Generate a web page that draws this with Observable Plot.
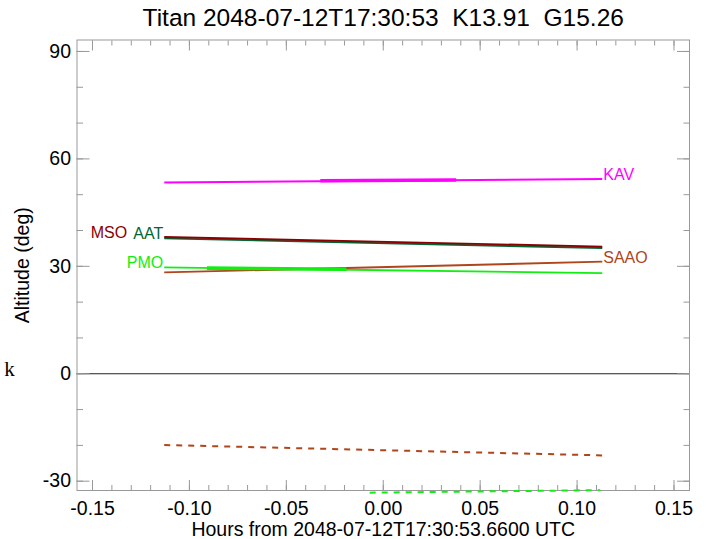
<!DOCTYPE html>
<html><head><meta charset="utf-8">
<script src="https://cdn.jsdelivr.net/npm/d3@7"></script>
<script src="https://cdn.jsdelivr.net/npm/@observablehq/plot@0.6"></script>
<style>body{margin:0;background:#fff;}</style>
</head><body><div id="chart"></div>
<script>
const titleText = "Titan 2048-07-12T17:30:53\u00a0 K13.91\u00a0 G15.26";
const xLabel = "Hours from 2048-07-12T17:30:53.6600 UTC";
const yLabel = "Altitude (deg)";
const sideMark = "k";

// solid tracks (start / end points)
const stations = ["KAV", "AAT", "MSO", "PMO", "SAAO"];
const stationColors = ["#ff00ff", "#006633", "#8b0000", "#11ee11", "#b0441a"];
const startHour = [-0.113, -0.113, -0.113, -0.113, -0.113];
const endHour = [0.113, 0.113, 0.113, 0.113, 0.113];
const startAlt = [53.4, 37.8, 38.2, 29.7, 28.3];
const endAlt = [54.4, 35.1, 35.5, 28.1, 31.3];
const labelAtEnd = [true, false, false, false, true];
const labelShifted = [false, false, true, false, false];

// thick (highlighted) segments
const hiStation = ["KAV", "PMO"];
const hiStartHour = [-0.0325, -0.091];
const hiEndHour = [0.0376, -0.019];
const hiStartAlt = [53.9, 29.5];
const hiEndAlt = [54.1, 29.2];

// dashed tracks
const dashStation = ["SAAO", "PMO"];
const dashStartHour = [-0.113, -0.007];
const dashEndHour = [0.113, 0.112];
const dashStartAlt = [-19.9, -33.2];
const dashEndAlt = [-22.8, -32.5];

// ticks
const xMajor = [-0.15, -0.10, -0.05, 0.00, 0.05, 0.10, 0.15];
const xMinor = d3.range(-15, 16).map(i => i / 100);
const yMajor = [-30, 0, 30, 60, 90];
const yMinor = d3.range(-30, 91, 10);

const colorOf = s => stationColors[stations.indexOf(s)];
const tracks = stations.map((s, i) => ({s, x1: startHour[i], y1: startAlt[i], x2: endHour[i], y2: endAlt[i], c: stationColors[i]}));
const hi = hiStation.map((s, i) => ({s, x1: hiStartHour[i], y1: hiStartAlt[i], x2: hiEndHour[i], y2: hiEndAlt[i], c: colorOf(s)}));
const dash = dashStation.map((s, i) => ({s, x1: dashStartHour[i], y1: dashStartAlt[i], x2: dashEndHour[i], y2: dashEndAlt[i], c: colorOf(s)}));
const labels = stations.map((s, i) => ({
  s, c: stationColors[i], end: labelAtEnd[i], shifted: labelShifted[i],
  x: labelAtEnd[i] ? endHour[i] : startHour[i],
  y: labelAtEnd[i] ? endAlt[i] : startAlt[i]
}));

const grey = "#999";
const font = "'Liberation Sans', Arial, Helvetica, sans-serif";

const marks = [
  Plot.ruleY([0], {stroke: "#222", strokeWidth: 1}),
  // inward ticks
  Plot.axisX({anchor: "bottom", ticks: xMajor, tickSize: -10, tickFormat: () => "", stroke: grey, label: null}),
  Plot.axisX({anchor: "bottom", ticks: xMinor, tickSize: -5, tickFormat: () => "", stroke: grey, label: null}),
  Plot.axisX({anchor: "top", ticks: xMajor, tickSize: -10, tickFormat: () => "", stroke: grey, label: null}),
  Plot.axisX({anchor: "top", ticks: xMinor, tickSize: -5, tickFormat: () => "", stroke: grey, label: null}),
  Plot.axisY({anchor: "left", ticks: yMajor, tickSize: -13, tickFormat: () => "", stroke: grey, label: null}),
  Plot.axisY({anchor: "left", ticks: yMinor, tickSize: -6.5, tickFormat: () => "", stroke: grey, label: null}),
  Plot.axisY({anchor: "right", ticks: yMajor, tickSize: -13, tickFormat: () => "", stroke: grey, label: null}),
  Plot.axisY({anchor: "right", ticks: yMinor, tickSize: -6.5, tickFormat: () => "", stroke: grey, label: null}),
  // tick labels
  Plot.axisX({anchor: "bottom", ticks: xMajor, tickSize: 0, tickPadding: 11, tickFormat: d => d.toFixed(2), label: null, fill: "black"}),
  Plot.axisY({anchor: "left", ticks: yMajor, tickSize: 0, tickPadding: 6, tickFormat: d => String(d), label: null, fill: "black"}),
  Plot.frame({stroke: grey}),
  // data
  Plot.link(dash, {x1: "x1", y1: "y1", x2: "x2", y2: "y2", stroke: "c", strokeWidth: 2, strokeDasharray: "6,6"}),
  Plot.link(tracks, {x1: "x1", y1: "y1", x2: "x2", y2: "y2", stroke: "c", strokeWidth: 1.9}),
  Plot.link(hi, {x1: "x1", y1: "y1", x2: "x2", y2: "y2", stroke: "c", strokeWidth: 3.6}),
  Plot.text(labels.filter(d => d.end), {x: "x", y: "y", text: "s", fill: "c", textAnchor: "start", dx: 1, dy: 1, lineAnchor: "bottom", fontSize: 16}),
  Plot.text(labels.filter(d => !d.end && !d.shifted), {x: "x", y: "y", text: "s", fill: "c", textAnchor: "end", dx: -1, dy: 1, lineAnchor: "bottom", fontSize: 16}),
  Plot.text(labels.filter(d => d.shifted), {x: "x", y: "y", text: "s", fill: "c", textAnchor: "end", dx: -37, dy: 1, lineAnchor: "bottom", fontSize: 16}),
  // texts
  Plot.text([titleText], {text: d => d, frameAnchor: "top", lineAnchor: "middle", textAnchor: "middle", dy: -21.5, fontSize: 24.5, fill: "black"}),
  Plot.text([xLabel], {text: d => d, frameAnchor: "bottom", lineAnchor: "middle", textAnchor: "middle", dy: 39, fontSize: 19.5, fill: "black"}),
  Plot.text([yLabel], {text: d => d, frameAnchor: "left", lineAnchor: "middle", textAnchor: "middle", rotate: -90, dx: -54, fontSize: 19.5, fill: "black"}),
  Plot.text([sideMark], {text: d => d, frameAnchor: "top-left", dx: 9 - 76.5, dy: 375 - 39.5, lineAnchor: "bottom", textAnchor: "middle", fontFamily: "'Liberation Serif', 'DejaVu Serif', serif", fontSize: 21, fill: "black"})
];

const chart = Plot.plot({
  width: 706, height: 539,
  marginLeft: 76.5, marginRight: 17, marginTop: 39.5, marginBottom: 49,
  x: {domain: [-0.158, 0.158]},
  y: {domain: [-32.6, 93.2]},
  color: {type: "identity"},
  style: {fontFamily: font, fontSize: "19.5px", color: "black", background: "white"},
  marks
});
document.getElementById("chart").appendChild(chart);
</script>
</body></html>
